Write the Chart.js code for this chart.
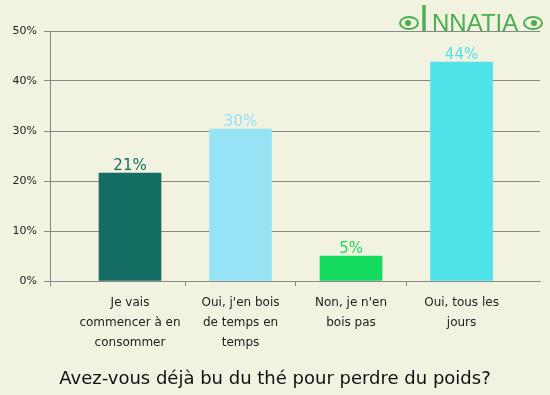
<!DOCTYPE html>
<html><head><meta charset="utf-8">
<script src="https://cdn.jsdelivr.net/npm/chart.js@4/dist/chart.umd.min.js"></script>
<style>html,body{margin:0;padding:0;background:#f2f2e1;}#wrap{width:550px;height:395px;}</style>
</head><body><div id="wrap"><canvas id="c" width="550" height="395"></canvas></div>
<script>
const categories = [
  ["Je vais", "commencer à en", "consommer"],
  ["Oui, j'en bois", "de temps en", "temps"],
  ["Non, je n'en", "bois pas"],
  ["Oui, tous les", "jours"]
];
const values = [21.6, 30.4, 5.0, 43.8];
const valueLabels = ["21%", "30%", "5%", "44%"];
const barColors = ["#136d63", "#96e3f5", "#15dc5f", "#4fe3e9"];
const yTicks = [0, 10, 20, 30, 40, 50];
const titleText = "Avez-vous déjà bu du thé pour perdre du poids?";

const FONT = "'DejaVu Sans', Verdana, sans-serif";

const valueLabelPlugin = {
  id: 'valueLabels',
  afterDatasetsDraw(chart) {
    const ctx = chart.ctx;
    const meta = chart.getDatasetMeta(0);
    ctx.save();
    ctx.font = "15px " + FONT;
    ctx.textAlign = 'center';
    ctx.textBaseline = 'alphabetic';
    meta.data.forEach((bar, i) => {
      ctx.fillStyle = barColors[i];
      ctx.fillText(valueLabels[i], bar.x, bar.y - 3);
    });
    ctx.restore();
  }
};

const logoPlugin = {
  id: 'logo',
  afterDraw(chart) {
    const ctx = chart.ctx;
    ctx.save();
    const green = '#4cae50';
    ctx.fillStyle = green;
    ctx.strokeStyle = green;
    ctx.textBaseline = 'alphabetic';
    ctx.textAlign = 'left';
    ctx.font = "36px 'Liberation Sans', sans-serif";
    ctx.fillText('I', 419, 31);
    ctx.font = "24px 'Liberation Sans', sans-serif";
    ctx.fillText('NNATIA', 432, 31);
    ctx.lineWidth = 2;
    [[409, 23, -1], [533, 23, 1]].forEach(([cx, cy, dir]) => {
      ctx.beginPath();
      ctx.ellipse(cx, cy, 9, 6, 0, 0, Math.PI * 2);
      ctx.stroke();
      ctx.beginPath();
      ctx.arc(cx + dir * 1, cy, 3, 0, Math.PI * 2);
      ctx.fill();
    });
    ctx.restore();
  }
};

new Chart(document.getElementById('c'), {
  type: 'bar',
  data: {
    datasets: [{
      data: values.map((v, i) => ({ x: i, y: v })),
      backgroundColor: barColors,
      borderWidth: 0,
      barThickness: 62
    }]
  },
  options: {
    responsive: false,
    animation: false,
    devicePixelRatio: 1,
    layout: { padding: { top: 31, right: 5, left: 5, bottom: 0 } },
    plugins: {
      legend: { display: false },
      tooltip: { enabled: false },
      title: {
        display: true,
        position: 'bottom',
        text: titleText,
        color: '#111',
        font: { family: FONT, size: 18, weight: 'normal', lineHeight: 1.2 },
        padding: { top: 0, bottom: 5 }
      }
    },
    scales: {
      x: {
        type: 'linear',
        offset: false,
        min: -0.724,
        max: 3.71,
        afterBuildTicks(scale) {
          scale.ticks = [-0.724, 0, 0.5, 1, 1.5, 2, 2.5, 3].map(v => ({ value: v }));
        },
        afterFit(scale) { scale.height = 87.4; },
        border: { display: true, color: '#888888', width: 1 },
        grid: {
          offset: false,
          drawOnChartArea: false,
          drawTicks: true,
          tickLength: 5,
          color(ctx) {
            const v = ctx.tick ? ctx.tick.value : 0;
            return Number.isInteger(v) ? 'rgba(0,0,0,0)' : '#888888';
          }
        },
        ticks: {
          autoSkip: false,
          maxRotation: 0,
          padding: 7,
          color: '#222',
          font: { family: FONT, size: 12, lineHeight: 1.67 },
          callback(value) {
            return Number.isInteger(value) ? categories[value] : '';
          }
        }
      },
      y: {
        min: 0,
        max: 50,
        afterBuildTicks(scale) {
          scale.ticks = yTicks.map(v => ({ value: v }));
        },
        afterFit(scale) { scale.width = 45; },
        border: { display: true, color: '#888888', width: 1 },
        grid: { color: '#888888', tickLength: 6, drawTicks: true },
        ticks: {
          padding: 7,
          color: '#222',
          font: { family: FONT, size: 11 },
          callback: v => v + '%'
        }
      },
      yRight: {
        type: 'linear',
        position: 'right',
        display: true,
        min: 0,
        max: 50,
        afterFit(scale) { scale.width = 5; },
        border: { display: false },
        grid: { display: false },
        ticks: { display: false }
      }
    }
  },
  plugins: [valueLabelPlugin, logoPlugin]
});
</script></body></html>
